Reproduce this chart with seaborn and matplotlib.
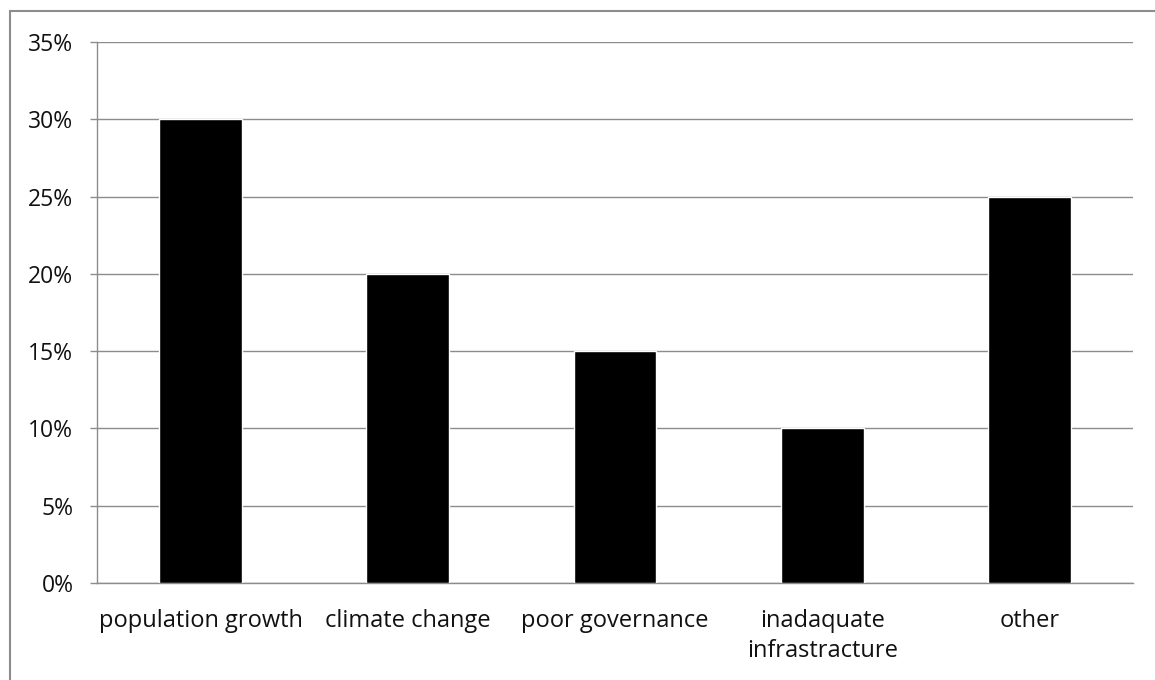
import matplotlib
matplotlib.use("Agg")
import matplotlib.pyplot as plt
import seaborn as sns
import pandas as pd
from matplotlib.lines import Line2D
from matplotlib.ticker import FuncFormatter, MultipleLocator, FixedLocator

# data
categories = ["population growth", "climate change", "poor governance",
              "inadaquate\ninfrastracture", "other"]
shares = [0.30, 0.20, 0.15, 0.10, 0.25]

df = pd.DataFrame({"cause": categories, "share": shares})

sns.set_style("white")
plt.rcParams["font.family"] = ["Open Sans", "DejaVu Sans"]

fig = plt.figure(figsize=(11.55, 6.8), dpi=100)
ax = fig.add_axes([97 / 1155, 1 - 583 / 680, (1133 - 97) / 1155, (583 - 42) / 680])

sns.barplot(data=df, x="cause", y="share", color="black", width=0.4,
            saturation=1, ax=ax, zorder=3)

ax.set_xlim(-0.5, len(categories) - 0.5)
ax.set_ylim(0, 0.35)
ax.yaxis.set_major_locator(MultipleLocator(0.05))
ax.yaxis.set_major_formatter(FuncFormatter(lambda v, p: f"{v * 100:.0f}%"))
ax.grid(axis="y", color="#8c8c8c", linewidth=1, zorder=0)

# category boundary ticks on x
ax.xaxis.set_minor_locator(FixedLocator([i - 0.5 for i in range(len(categories) + 1)]))
ax.tick_params(axis="x", which="major", length=0, pad=19, labelsize=17,
               labelcolor="#111111")
ax.tick_params(axis="x", which="minor", length=5, color="#8c8c8c", width=1)
ax.tick_params(axis="y", which="major", length=5, color="#8c8c8c", width=1,
               labelsize=16.5, pad=12, left=True, labelcolor="#111111")
for lab in ax.get_xticklabels():
    lab.set_linespacing(1.3)
ax.set_xlabel("")
ax.set_ylabel("")

for side in ["top", "right"]:
    ax.spines[side].set_visible(False)
for side in ["left", "bottom"]:
    ax.spines[side].set_color("#8c8c8c")
    ax.spines[side].set_linewidth(1)

# outer chart border (only top and left edges visible)
bx, by = 10 / 1155, 1 - 11 / 680
fig.add_artist(Line2D([bx, bx], [0, by], transform=fig.transFigure,
                      color="#8c8c8c", linewidth=1.5))
fig.add_artist(Line2D([bx, 1], [by, by], transform=fig.transFigure,
                      color="#8c8c8c", linewidth=1.5))

fig.savefig("out.png", dpi=100)
